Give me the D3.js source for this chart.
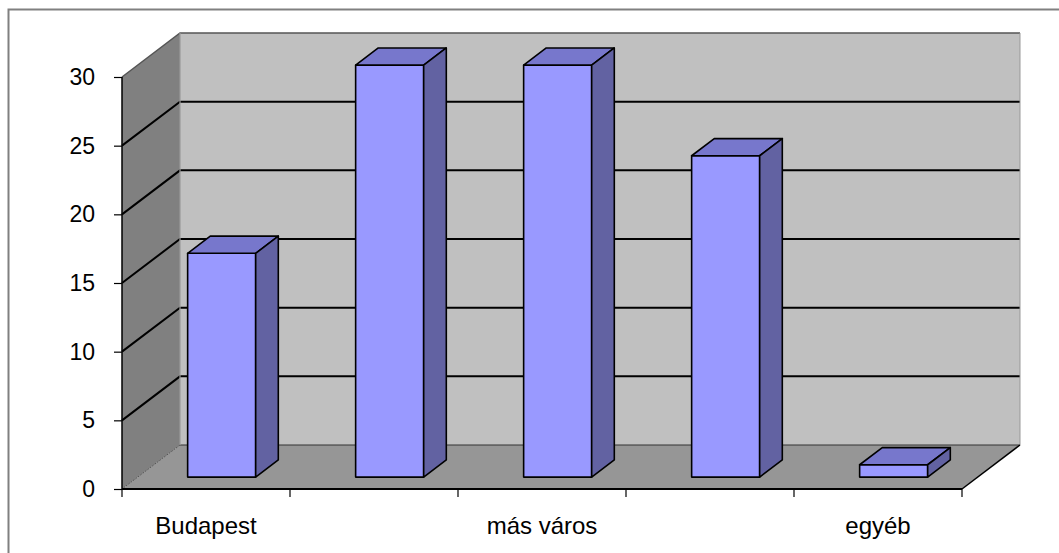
<!DOCTYPE html>
<html lang="en">
<head>
    <meta charset="utf-8">
    <title>3D column chart</title>
    <script src="https://d3js.org/d3.v7.min.js"></script>
    <style>
        body { margin: 0; background: white; }
        text { font-family: "Liberation Sans", Arial, sans-serif; fill: black; }
    </style>
</head>
<body>
<div id="chart"></div>
<script>
    // chart data
    const categories = ["Budapest", "b", "más város", "d", "egyéb"];
    const tickLabels = ["Budapest", "", "más város", "", "egyéb"];
    const values = [16.3, 30, 30, 23.4, 0.9];
    const yTicks = [0, 5, 10, 15, 20, 25, 30];

    const width = 1059, height = 553;

    // front plane of the plot and depth offset of the back wall
    const plotLeft = 122, plotRight = 962, plotBottom = 489, plotTop = 77;
    const depthX = 58, depthY = -44;

    const svg = d3.select("#chart").append("svg")
        .attr("width", width)
        .attr("height", height);

    // outer chart border
    svg.append("rect")
        .attr("x", 8.5).attr("y", 9.5)
        .attr("width", 1200).attr("height", 800)
        .attr("fill", "white")
        .attr("stroke", "#808080")
        .attr("stroke-width", 2);

    var x = d3.scaleBand().domain(categories).range([plotLeft, plotRight]);
    var y = d3.scaleLinear().domain([0, 30]).range([plotBottom, plotTop]);

    // shift a point by a fraction of the depth
    function off(p, t) { return [p[0] + depthX * t, p[1] + depthY * t]; }
    function poly(pts) { return "M" + pts.map(p => p.join(",")).join("L") + "Z"; }

    const y0 = y(0), yMax = y(30);

    // side wall
    svg.append("path")
        .attr("d", poly([[plotLeft, yMax], off([plotLeft, yMax], 1), off([plotLeft, y0], 1), [plotLeft, y0]]))
        .attr("fill", "#808080");
    // back wall
    svg.append("path")
        .attr("d", poly([off([plotLeft, yMax], 1), off([plotRight, yMax], 1), off([plotRight, y0], 1), off([plotLeft, y0], 1)]))
        .attr("fill", "#c0c0c0");
    // floor
    svg.append("path")
        .attr("d", poly([[plotLeft, y0], off([plotLeft, y0], 1), off([plotRight, y0], 1), [plotRight, y0]]))
        .attr("fill", "#969696");

    // gridlines on side and back wall
    yTicks.filter(d => d > 0).forEach(function (d) {
        var p = [plotLeft, y(d)];
        svg.append("path")
            .attr("d", "M" + p.join(",") + "L" + off(p, 1).join(",") + "L" + off([plotRight, y(d)], 1).join(","))
            .attr("fill", "none")
            .attr("stroke", d === 30 ? "#555" : "black")
            .attr("stroke-width", d === 30 ? 1.5 : 2);
    });

    // wall edges
    svg.append("path")
        .attr("d", "M" + off([plotLeft, y0], 1).join(",") + "L" + off([plotRight, y0], 1).join(","))
        .attr("stroke", "#333").attr("stroke-width", 1.2).attr("fill", "none");
    svg.append("path")
        .attr("d", "M" + off([plotLeft, yMax], 1).join(",") + "L" + off([plotLeft, y0], 1).join(","))
        .attr("stroke", "#999").attr("stroke-width", 1.2).attr("fill", "none");
    svg.append("path")
        .attr("d", "M" + off([plotRight, yMax], 1).join(",") + "L" + off([plotRight, y0], 1).join(","))
        .attr("stroke", "#999").attr("stroke-width", 1).attr("fill", "none");
    svg.append("path")
        .attr("d", "M" + off([plotLeft, y0], 1).join(",") + "L" + [plotLeft, y0].join(","))
        .attr("stroke", "#555").attr("stroke-width", 1).attr("stroke-dasharray", "2,1").attr("fill", "none");

    // bars
    const barFront = 0.27, barBack = 0.66, barWidth = 0.405;
    const bw = x.bandwidth() * barWidth;
    values.forEach(function (v, i) {
        var xs = x(categories[i]) + (x.bandwidth() - bw) / 2;
        var a = off([xs, y0], barFront), b = off([xs + bw, y0], barFront);
        var c = off([xs + bw, y(v)], barFront), d = off([xs, y(v)], barFront);
        var dt = barBack - barFront;
        var g = svg.append("g")
            .attr("stroke", "black")
            .attr("stroke-width", 1.6)
            .attr("stroke-linejoin", "round");
        g.append("path").attr("d", poly([a, b, c, d])).attr("fill", "#9999ff");
        g.append("path").attr("d", poly([d, c, off(c, dt), off(d, dt)])).attr("fill", "#7777cc");
        g.append("path").attr("d", poly([b, off(b, dt), off(c, dt), c])).attr("fill", "#6262a2");
    });

    // front axis lines
    svg.append("line")
        .attr("x1", plotLeft).attr("x2", plotLeft).attr("y1", yMax).attr("y2", y0)
        .attr("stroke", "black").attr("stroke-width", 1.5);
    svg.append("line")
        .attr("x1", plotLeft).attr("x2", plotRight).attr("y1", y0).attr("y2", y0)
        .attr("stroke", "black").attr("stroke-width", 2);
    svg.append("path")
        .attr("d", "M" + [plotRight, y0].join(",") + "L" + off([plotRight, y0], 1).join(","))
        .attr("stroke", "black").attr("stroke-width", 1.5).attr("fill", "none");

    // y axis ticks and labels
    var yAxis = d3.axisLeft(y).tickValues(yTicks).tickSize(8).tickPadding(19);
    svg.append("g")
        .attr("transform", "translate(" + plotLeft + ",0)")
        .call(yAxis)
        .call(g => g.select(".domain").remove())
        .call(g => g.selectAll("line").attr("stroke", "black").attr("stroke-width", 1.2))
        .call(g => g.selectAll("text").attr("font-size", 23).attr("font-family", "Liberation Sans, Arial, sans-serif"));

    // x axis ticks
    var xTickPos = categories.map(c => x(c)).concat([plotRight]);
    svg.selectAll(".xtick").data(xTickPos).enter().append("line")
        .attr("x1", d => d).attr("x2", d => d)
        .attr("y1", y0).attr("y2", y0 + 8)
        .attr("stroke", "black").attr("stroke-width", 1.2);

    // x labels
    svg.selectAll(".xlabel").data(categories).enter().append("text")
        .attr("x", d => x(d) + x.bandwidth() / 2)
        .attr("y", 534)
        .attr("text-anchor", "middle")
        .attr("font-size", 24)
        .text((d, i) => tickLabels[i]);
</script>
</body>
</html>
